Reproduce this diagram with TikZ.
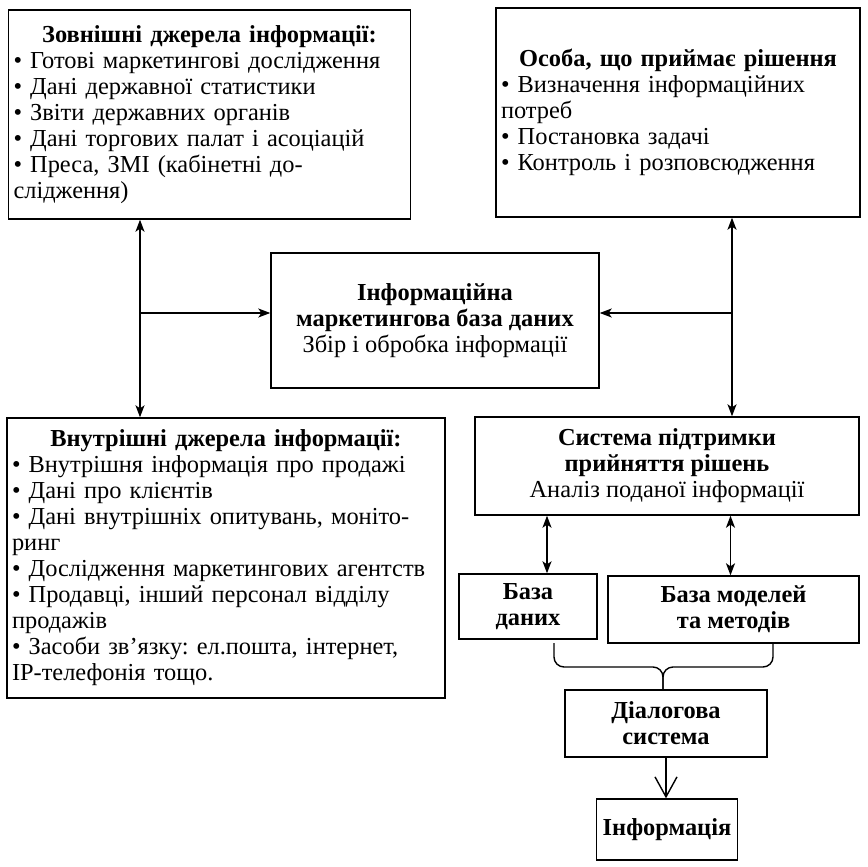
\documentclass[tikz,border=0pt]{standalone}
\usepackage{fontspec}
\setmainfont{Liberation Serif}
\usetikzlibrary{arrows.meta}
\frenchspacing

\newcommand{\boxhead}[1]{{\centering\textbf{#1}\par}}

\tikzset{
    box/.style={draw, inner sep=3pt, align=center, font=\fontsize{12.2}{13}\selectfont},
    listbox/.style={box, inner sep=2.5pt, align=left},
}

\begin{document}
\begin{tikzpicture}[x=0.5pt, y=-0.5pt, line width=0.7pt, >={Stealth[length=6pt,width=4.5pt,inset=1.5pt]}]
        \useasboundingbox (0,0) rectangle (868,867);

        \node[listbox, text width=196pt, minimum height=104.5pt] (ext) at (209.5,114.5) {\boxhead{Зовнішні джерела інформації:}• Готові маркетингові дослідження\\ • Дані державної статистики\\ • Звіти державних органів\\ • Дані торгових палат і асоціацій\\ • Преса, ЗМІ (кабінетні до-\\ слідження)};
        \node[listbox, text width=177pt, minimum height=104.5pt] (dm) at (678,112.5) {\boxhead{Особа, що приймає рішення}• Визначення інформаційних\\ потреб\\ • Постановка задачі\\ • Контроль і розповсюдження};
        \node[box, minimum width=164pt, minimum height=67.5pt] (imbd) at (435,320.5) {\textbf{Інформаційна}\\ \textbf{маркетингова база даних}\\ Збір і обробка інформації};
        \node[listbox, text width=214pt, minimum height=140pt] (int) at (226,558) {\boxhead{Внутрішні джерела інформації:}• Внутрішня інформація про продажі\\ • Дані про клієнтів\\ • Дані внутрішніх опитувань, моніто-\\ ринг\\ • Дослідження маркетингових агентств\\ • Продавці, інший персонал відділу\\ продажів\\ • Засоби зв’язку: ел.пошта, інтернет,\\ IP-телефонія тощо.};
        \node[box, minimum width=192pt, minimum height=49pt] (dss) at (667,466) {\textbf{Система підтримки}\\ \textbf{прийняття рішень}\\ Аналіз поданої інформації};
        \node[box, minimum width=69pt, minimum height=32.5pt] (bd) at (528,606.5) {\textbf{База}\\ \textbf{даних}};
        \node[box, minimum width=125.5pt, minimum height=33.5pt] (bm) at (733.5,609.5) {\textbf{База моделей}\\ \textbf{та методів}};
        \node[box, minimum width=101pt, minimum height=33.5pt] (dial) at (666,723.5) {\textbf{Діалогова}\\ \textbf{система}};
        \node[box, minimum width=70pt, minimum height=30.5pt] (info) at (667,829.5) {\textbf{Інформація}};

        \coordinate (lj) at (140,313);
        \coordinate (rj) at (732,313);
        \coordinate (bdtop) at ([xshift=9.5pt]bd.north);
        \coordinate (bmtop) at ([xshift=-1.5pt]bm.north);
        \coordinate (bl) at (554,643);
        \coordinate (br) at (773,643);
        \coordinate (tip) at (663,667);

        \draw[<->] (lj |- ext.south) -- (lj |- int.north);
        \draw[->] (lj) -- (lj -| imbd.west);
        \draw[<->] (rj |- dm.south) -- (rj |- dss.north);
        \draw[->] (rj) -- (rj -| imbd.east);
        \draw[<->] (bdtop |- dss.south) -- (bdtop);
        \draw[<->] (bmtop |- dss.south) -- (bmtop);
        \draw[rounded corners=5pt] (bl) |- (tip) -- (tip |- dial.north);
        \draw[rounded corners=5pt] (br) |- (tip) -- (tip |- dial.north);
        \draw[-{Straight Barb[length=10pt,width=11pt]}] (dial.south) -- (dial.south |- info.north);
    \end{tikzpicture}
\end{document}
